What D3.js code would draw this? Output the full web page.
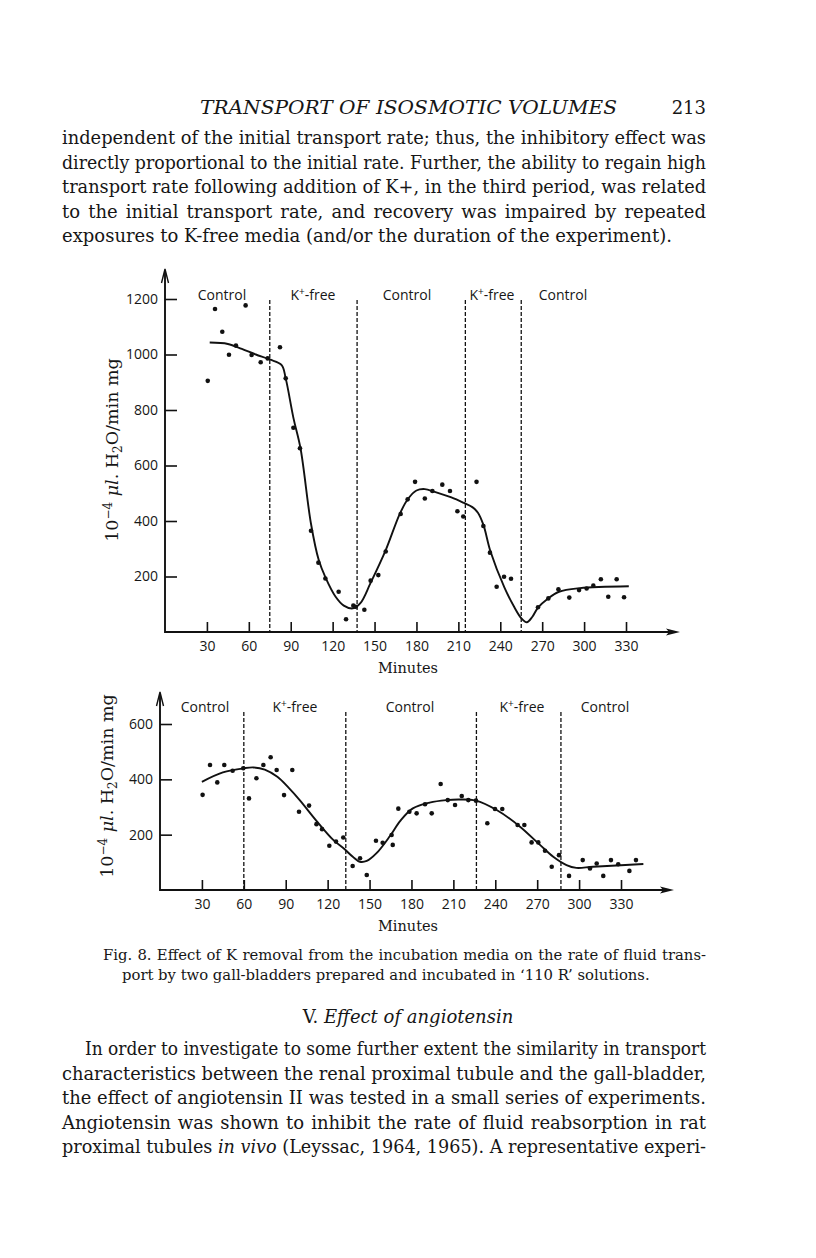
<!DOCTYPE html>
<html>
<head>
<meta charset="utf-8">
<script src="https://cdn.jsdelivr.net/npm/d3@7"></script>
<style>
body { margin: 0; background: #fff; }
text { fill: #161616; }
</style>
</head>
<body>
<svg id="page" width="816" height="1258"></svg>
<script>
// ---- data ----
var xTicks = [30, 60, 90, 120, 150, 180, 210, 240, 270, 300, 330];
var yTicksTop = [200, 400, 600, 800, 1000, 1200];
var yTicksBottom = [200, 400, 600];
var periods = ["Control", "K+-free", "Control", "K+-free", "Control"];

// upper gall-bladder
var topMinutes = [30.6, 35.8, 41, 45.8, 50.8, 57.7, 62, 68.5, 73.5, 82.3, 86.4, 91.9, 96.6, 104.5, 109.8, 114.8,
    124.3, 129.6, 134.8, 136.5, 142.7, 147.2, 152.7, 158, 168.7, 173.7, 179, 186, 191.4, 198.5, 204, 209.3, 213.5,
    223, 227.9, 232.6, 237.4, 242.7, 247.7, 267, 274.4, 281.6, 289.4, 296.4, 301.8, 306.6, 312, 317.3, 323.3, 328.6];
var topRates = [905, 1164, 1082, 999, 1032, 1177, 998, 972, 986, 1026, 914, 736, 662, 365, 250, 193,
    145, 46, 95, 91, 80, 185, 205, 290, 425, 478, 541, 481, 508, 531, 508, 435, 416,
    541, 382, 286, 163, 199, 192, 89, 121, 154, 124, 151, 157, 167, 190, 127, 190, 125];
var topCurveMin = [32, 45, 55, 65, 75, 83.5, 86.4, 92, 97, 104.5, 110, 115, 122, 128, 134.5, 140, 147, 158, 168,
    174, 180, 186, 193, 205, 214, 220, 224, 228, 233, 243, 250, 255, 259, 263, 267, 274, 282, 297, 332];
var topCurveRate = [1043, 1038, 1020, 1000, 982, 962, 914, 770, 662, 390, 260, 195, 128, 95, 85, 105, 175, 295, 425,
    480, 510, 515, 505, 485, 465, 450, 430, 385, 290, 160, 90, 50, 35, 55, 88, 120, 145, 158, 165];
var topBreaks = [75, 137.5, 215, 255];

// lower gall-bladder
var botMinutes = [30.5, 35.8, 41, 46, 52, 59.6, 63.7, 69, 74, 79.2, 83.5, 88.8, 94.7, 99.5, 106.7, 112, 116,
    121.2, 126, 131.2, 137.9, 143.2, 148, 154.6, 159.4, 165.8, 166.6, 170.6, 178.5, 183.7, 189.7, 194.5, 200.9,
    206, 211.2, 216, 220.7, 226.2, 234.3, 239.8, 245, 256, 260.8, 266, 270.8, 275.6, 280.4, 285.6, 292.8, 302.6,
    307.8, 312.6, 317.3, 322.8, 328, 336, 340.7];
var botRates = [344, 452, 389, 452, 431, 440, 331, 404, 452, 480, 434, 343, 434, 283, 305, 238, 220,
    160, 175, 190, 87, 115, 54, 178, 171, 199, 163, 294, 283, 277, 310, 277, 383,
    325, 307, 340, 325, 323, 241, 293, 293, 235, 235, 172, 172, 142, 84, 126, 51, 108,
    78, 96, 51, 108, 93, 69, 108];
var botCurveMin = [30, 45, 60, 67, 75, 84, 92, 100, 112, 124, 132, 138, 143, 148, 155, 164.6, 172, 181, 193, 205,
    215, 226, 241, 257.7, 272, 281.5, 291, 298, 310, 346];
var botCurveRate = [391, 425, 440, 443, 435, 409, 370, 325, 250, 181, 148, 120, 102, 105, 133, 195, 250, 295, 316, 325,
    327, 323, 289, 229, 163, 120, 90, 80, 84, 94];
var botBreaks = [60, 133, 226.5, 287];

// ---- page text ----
var bodyTop = [
    "independent of the initial transport rate; thus, the inhibitory effect was",
    "directly proportional to the initial rate. Further, the ability to regain high",
    "transport rate following addition of K+, in the third period, was related",
    "to the initial transport rate, and recovery was impaired by repeated",
    "exposures to K-free media (and/or the duration of the experiment)."
];
var bodyBottom = [
    "In order to investigate to some further extent the similarity in transport",
    "characteristics between the renal proximal tubule and the gall-bladder,",
    "the effect of angiotensin II was tested in a small series of experiments.",
    "Angiotensin was shown to inhibit the rate of fluid reabsorption in rat",
    "proximal tubules |in vivo| (Leyssac, 1964, 1965). A representative experi-"
];

var svg = d3.select("#page");
var serif = "'DejaVu Serif', serif";
var sans = "'Open Sans', 'Noto Sans', sans-serif";

// stretch word gaps (or squeeze letters a touch) so a line fills its measure
function justify(t, width) {
    var node = t.node();
    var spaces = (node.textContent.match(/ /g) || []).length;
    var extra = width - node.getComputedTextLength();
    if (extra < 0) {
        t.attr("textLength", width).attr("lengthAdjust", "spacingAndGlyphs");
    } else if (spaces) {
        t.style("word-spacing", (extra / spaces) + "px");
    }
}

// header
svg.append("text")
    .attr("x", 200).attr("y", 114)
    .attr("textLength", 417).attr("lengthAdjust", "spacingAndGlyphs")
    .style("font", "italic 18px " + serif)
    .text("TRANSPORT OF ISOSMOTIC VOLUMES");
svg.append("text")
    .attr("x", 706).attr("y", 114).attr("text-anchor", "end")
    .style("font", "18px " + serif)
    .text("213");

// justified paragraph lines, '|' toggles italics
function paragraph(lines, top, indent) {
    lines.forEach(function (line, i) {
        var x0 = (i === 0 ? indent : 62);
        var t = svg.append("text")
            .attr("x", x0).attr("y", top + i * 24.6)
            .style("font", "18px " + serif);
        line.split("|").forEach(function (part, j) {
            var s = t.append("tspan").text(part);
            if (j % 2 === 1) s.style("font-style", "italic");
        });
        if (i < lines.length - 1 || line.slice(-1) === "-") justify(t, 706 - x0);
    });
}
paragraph(bodyTop, 144, 62);

// ---- chart drawing ----
function drawChart(o) {
    var x = d3.scaleLinear().domain([0, 330]).range([o.x0, o.x0 + 330 * 1.397]);
    var y = d3.scaleLinear().domain([0, o.yMax]).range([o.y0, o.yTop]);
    var g = svg.append("g");

    // axes
    g.append("g")
        .attr("transform", "translate(0," + o.y0 + ")")
        .call(d3.axisBottom(x).tickValues(xTicks).tickSize(-10).tickPadding(9))
        .call(function (a) {
            a.select(".domain").remove();
            a.selectAll(".tick line").attr("stroke", "#111").attr("stroke-width", 1.6);
            a.selectAll(".tick text").style("font", "14px " + sans).attr("fill", "#161616");
        });
    g.append("g")
        .attr("transform", "translate(" + o.x0 + ",0)")
        .call(d3.axisLeft(y).tickValues(o.yTicks).tickFormat(d3.format("d")).tickSize(-12).tickPadding(7))
        .call(function (a) {
            a.select(".domain").remove();
            a.selectAll(".tick line").attr("stroke", "#111").attr("stroke-width", 1.6);
            a.selectAll(".tick text").style("font", "14px " + sans).attr("fill", "#161616");
        });
    g.append("line").attr("x1", o.x0).attr("x2", o.xEnd).attr("y1", o.y0).attr("y2", o.y0)
        .attr("stroke", "#111").attr("stroke-width", 1.9);
    g.append("line").attr("x1", o.x0).attr("x2", o.x0).attr("y1", o.y0 + 1).attr("y2", o.yArrow)
        .attr("stroke", "#111").attr("stroke-width", 1.9);
    g.append("path")
        .attr("d", "M" + (o.xEnd + 8) + "," + o.y0 + "L" + (o.xEnd - 6) + "," + (o.y0 - 3.5) +
            "L" + (o.xEnd - 3) + "," + o.y0 + "L" + (o.xEnd - 6) + "," + (o.y0 + 3.5) + "Z")
        .attr("fill", "#111");
    g.append("path")
        .attr("d", "M" + (o.x0 - 3.5) + "," + (o.yArrow + 12) + "L" + o.x0 + "," + (o.yArrow - 2) +
            "L" + (o.x0 + 3.5) + "," + (o.yArrow + 12))
        .attr("fill", "none").attr("stroke", "#111").attr("stroke-width", 1.4);

    // period boundaries
    g.selectAll(".brk").data(o.breaks).enter().append("line")
        .attr("x1", function (d) { return x(d); }).attr("x2", function (d) { return x(d); })
        .attr("y1", o.dashTop).attr("y2", o.y0)
        .attr("stroke", "#111").attr("stroke-width", 1.3).attr("stroke-dasharray", "4,2");

    // period labels
    o.labelX.forEach(function (cx, i) {
        var t = g.append("text").attr("x", cx).attr("y", o.labelY).attr("text-anchor", "middle")
            .style("font", "14px " + sans);
        if (periods[i] === "Control") {
            t.text("Control");
        } else {
            t.append("tspan").text("K");
            t.append("tspan").attr("dy", -5).style("font-size", "10px").text("+");
            t.append("tspan").attr("dy", 5).text("-free");
        }
    });

    // fitted curve
    var pts = o.curveMin.map(function (m, i) { return [x(m), y(o.curveRate[i])]; });
    g.append("path")
        .attr("d", d3.line().curve(d3.curveCatmullRom.alpha(0.5))(pts))
        .attr("fill", "none").attr("stroke", "#111").attr("stroke-width", 1.9);

    // observations
    g.selectAll(".pt").data(o.minutes).enter().append("circle")
        .attr("cx", function (d) { return x(d); })
        .attr("cy", function (d, i) { return y(o.rates[i]); })
        .attr("r", 2.3).attr("fill", "#111");

    // axis titles
    g.append("text").attr("x", 408).attr("y", o.y0 + 41).attr("text-anchor", "middle")
        .style("font", "14.5px " + serif).text("Minutes");
    var yt = g.append("text")
        .attr("transform", "translate(" + (o.x0 - 47) + "," + o.yTitleMid + ") rotate(-90)")
        .attr("text-anchor", "middle")
        .style("font", "17.5px " + serif);
    yt.append("tspan").text("10");
    yt.append("tspan").attr("dy", -6).style("font-size", "12px").text("\u22124");
    yt.append("tspan").attr("dy", 6).text(" ");
    yt.append("tspan").style("font-style", "italic").text("\u03bcl");
    yt.append("tspan").text(". H");
    yt.append("tspan").attr("dy", 4).style("font-size", "12px").text("2");
    yt.append("tspan").attr("dy", -4).text("O/min mg");
}

drawChart({
    x0: 165, y0: 632, yTop: 299, yMax: 1200, yTicks: yTicksTop, xEnd: 672, yArrow: 271,
    dashTop: 300, breaks: topBreaks, labelX: [222, 313, 407, 492, 563], labelY: 300,
    minutes: topMinutes, rates: topRates, curveMin: topCurveMin, curveRate: topCurveRate,
    yTitleMid: 450
});
drawChart({
    x0: 160, y0: 890, yTop: 724, yMax: 600, yTicks: yTicksBottom, xEnd: 666, yArrow: 694,
    dashTop: 712, breaks: botBreaks, labelX: [205, 295, 410, 522, 605], labelY: 712,
    minutes: botMinutes, rates: botRates, curveMin: botCurveMin, curveRate: botCurveRate,
    yTitleMid: 786
});

// caption
var cap = svg.append("text").attr("x", 103).attr("y", 960)
    .style("font", "14.8px " + serif)
    .text("Fig. 8. Effect of K removal from the incubation media on the rate of fluid trans-");
justify(cap, 603);
svg.append("text").attr("x", 122).attr("y", 980)
    .style("font", "14.8px " + serif)
    .text("port by two gall-bladders prepared and incubated in \u2018110 R\u2019 solutions.");

// section heading
var h = svg.append("text").attr("x", 408).attr("y", 1023).attr("text-anchor", "middle")
    .style("font", "18px " + serif);
h.append("tspan").text("V.  ");
h.append("tspan").style("font-style", "italic").text("Effect of angiotensin");

paragraph(bodyBottom, 1055, 85);
</script>
</body>
</html>
